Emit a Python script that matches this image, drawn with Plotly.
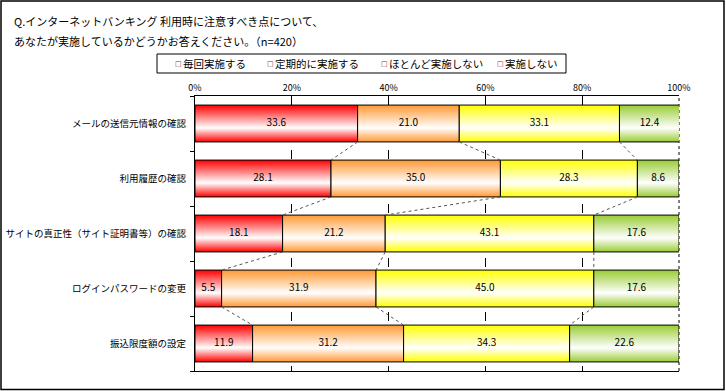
import plotly.graph_objects as go

categories = ["メールの送信元情報の確認", "利用履歴の確認", "サイトの真正性（サイト証明書等）の確認",
              "ログインパスワードの変更", "振込限度額の設定"]
series_names = ["毎回実施する", "定期的に実施する", "ほとんど実施しない", "実施しない"]
every_time = [33.6, 28.1, 18.1, 5.5, 11.9]
regularly = [21.0, 35.0, 21.2, 31.9, 31.2]
rarely = [33.1, 28.3, 43.1, 45.0, 34.3]
never = [12.4, 8.6, 17.6, 17.6, 22.6]
x_ticks = [0, 20, 40, 60, 80, 100]
x_tick_labels = ["0%", "20%", "40%", "60%", "80%", "100%"]
title_lines = ["Q.インターネットバンキング 利用時に注意すべき点について、",
               "あなたが実施しているかどうかお答えください。（n=420）"]

series_values = [every_time, regularly, rarely, never]
series_colors = ["#FF0000", "#FF9933", "#FFFF00", "#99CC33"]

FONT = "Noto Sans CJK JP"
W_FIG, H_FIG = 726, 391
L, T, R, B = 195, 96, 679, 371
PW, PH = R - L, B - T


def px2x(px):
    return (px - L) / PW


def py2y(py):
    return (B - py) / PH


bar_h = 0.67
fig = go.Figure()

n = len(categories)
cum = []
for i in range(n):
    c = [0.0]
    for s in series_values:
        c.append(c[-1] + s[i])
    cum.append(c)

# bars with vertical gradient
for k, (name, vals, col) in enumerate(zip(series_names, series_values, series_colors)):
    for i in range(n):
        x0, x1 = cum[i][k], cum[i][k + 1]
        yt, yb = i - bar_h / 2, i + bar_h / 2
        fig.add_trace(go.Scatter(
            x=[x0, x1, x1, x0, x0], y=[yt, yt, yb, yb, yt],
            mode="lines", fill="toself",
            line=dict(color="black", width=1),
            fillgradient=dict(type="vertical", start=yt, stop=yb,
                              colorscale=[[0, col], [0.62, "#FFFFFF"], [1, col]]),
            name=name, showlegend=False, hoverinfo="skip"))

# data labels
lx, ly, lt = [], [], []
for k, vals in enumerate(series_values):
    for i in range(n):
        lx.append((cum[i][k] + cum[i][k + 1]) / 2)
        ly.append(i)
        lt.append(f"{vals[i]:.1f}")
fig.add_trace(go.Scatter(x=lx, y=ly, text=lt, mode="text",
                         textfont=dict(family=FONT, size=10, color="black"),
                         showlegend=False, hoverinfo="skip"))

# series lines
sx, sy = [], []
for i in range(n - 1):
    for k in range(1, len(series_values)):
        sx += [cum[i][k], cum[i + 1][k], None]
        sy += [i + bar_h / 2, i + 1 - bar_h / 2, None]
fig.add_trace(go.Scatter(x=sx, y=sy, mode="lines",
                         line=dict(color="#555555", width=1, dash="dot"),
                         showlegend=False, hoverinfo="skip"))

annotations = []
# title
for j, line in enumerate(title_lines):
    annotations.append(dict(text=line, xref="paper", yref="paper",
                            x=px2x(12), y=py2y(21 + 20 * j), xanchor="left", yanchor="middle",
                            showarrow=False, font=dict(family=FONT, size=11, color="black")))
# legend
leg_x = [176, 268, 382, 498]
for name, lxp in zip(series_names, leg_x):
    annotations.append(dict(text="□", xref="paper", yref="paper",
                            x=px2x(lxp + 2), y=py2y(63.5), xanchor="center", yanchor="middle",
                            showarrow=False, font=dict(family="DejaVu Sans", size=7, color="#8B1A1A")))
    annotations.append(dict(text=name, xref="paper", yref="paper",
                            x=px2x(lxp + 5), y=py2y(63.5), xanchor="left", yanchor="middle",
                            showarrow=False, font=dict(family=FONT, size=10.5, color="black")))

shapes = [
    dict(type="rect", xref="paper", yref="paper", x0=px2x(157), x1=px2x(566),
         y0=py2y(54), y1=py2y(73), line=dict(color="black", width=1), fillcolor="rgba(0,0,0,0)"),
    dict(type="rect", xref="paper", yref="paper", x0=px2x(1), x1=px2x(724),
         y0=py2y(1), y1=py2y(389.5), line=dict(color="black", width=1.5), fillcolor="rgba(0,0,0,0)"),
    dict(type="line", xref="paper", yref="paper", x0=1, x1=1, y0=0, y1=1,
         line=dict(color="black", width=1, dash="dot"), layer="below"),
]

fig.update_layout(
    width=W_FIG, height=H_FIG,
    margin=dict(l=L, r=W_FIG - R, t=T, b=H_FIG - B, pad=0, autoexpand=False),
    paper_bgcolor="white", plot_bgcolor="white",
    font=dict(family=FONT, color="black"),
    showlegend=False,
    annotations=annotations, shapes=shapes,
    xaxis=dict(range=[0, 100], side="top", tickvals=x_ticks, ticktext=x_tick_labels,
               tickfont=dict(family=FONT, size=9, color="black"),
               showgrid=True, gridcolor="black", gridwidth=1, griddash="dash",
               showline=True, linecolor="black", linewidth=1, mirror=True,
               ticks="", zeroline=False, fixedrange=True, automargin=False),
    yaxis=dict(range=[n - 0.5, -0.5], tickvals=list(range(n)), ticktext=categories,
               tickfont=dict(family=FONT, size=9.5, color="black"),
               showgrid=False, zeroline=False,
               showline=True, linecolor="black", linewidth=1,
               ticks="", ticklabelstandoff=6, automargin=False,
               minor=dict(tickvals=[i + 0.5 for i in range(-1, n)], ticks="outside",
                          ticklen=4, tickcolor="black"),
               fixedrange=True),
)

fig.write_html("out.html", config={"displayModeBar": False},
               post_script="document.body.style.margin='0px';document.body.style.overflow='hidden';")
